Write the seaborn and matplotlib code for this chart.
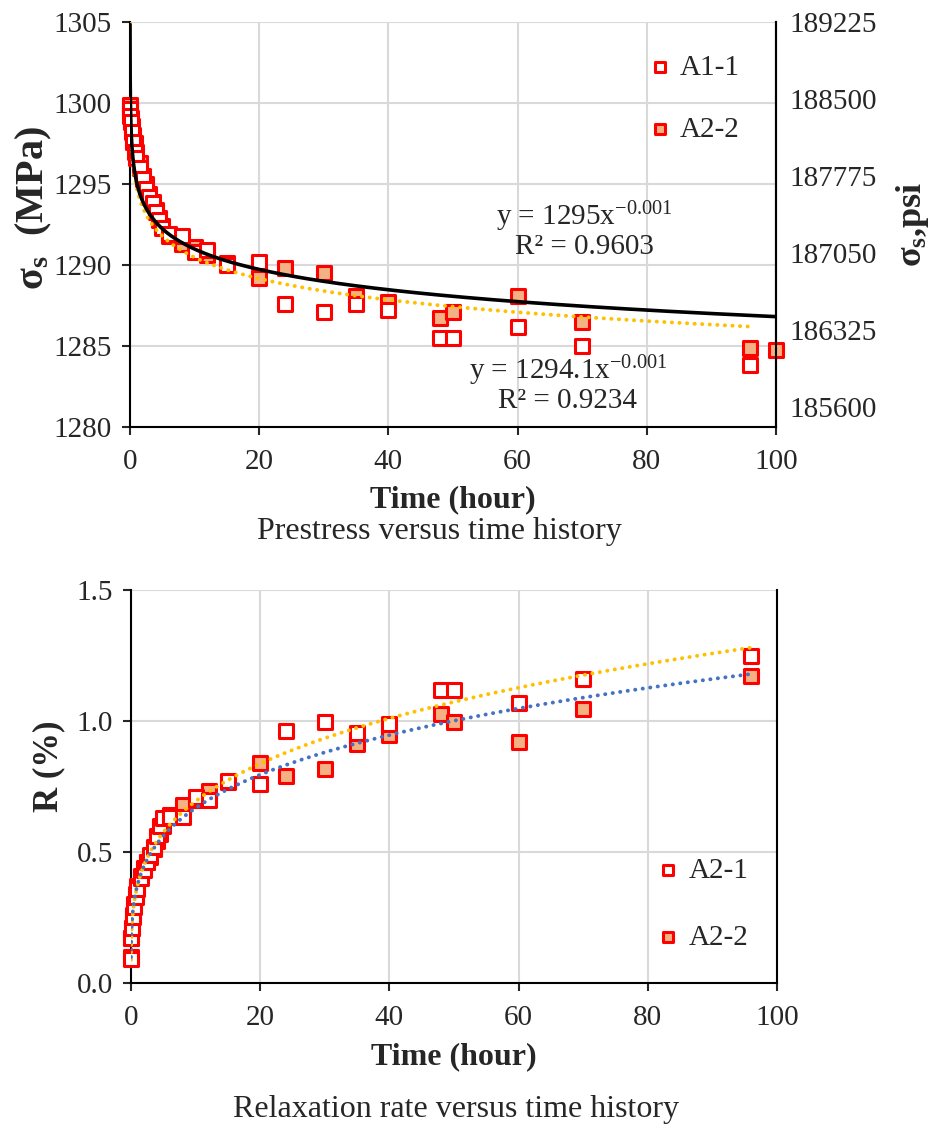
import matplotlib
matplotlib.use("Agg")
import matplotlib.pyplot as plt
import seaborn as sns
import numpy as np

# Messzeitpunkte (h)
hours = [0.005, 0.05, 0.1, 0.25, 0.5, 0.75, 1, 1.5, 2, 2.5, 3, 3.5, 4, 4.5, 5,
         6, 8, 10, 12, 15, 20, 24, 30, 35, 40, 48, 50, 60, 70, 96]
hours_a22_top = hours + [100]

# Spannung (MPa)
stress_a11 = [1299.6, 1299.2, 1298.8, 1298.2, 1297.6, 1297.0, 1296.6, 1296.0, 1295.3, 1294.7,
              1294.2, 1293.8, 1293.3, 1292.8, 1292.3, 1291.9, 1291.8, 1290.8, 1290.9, 1290.0,
              1290.2, 1287.6, 1287.1, 1287.6, 1287.2, 1285.5, 1285.5, 1286.2, 1285.0, 1283.8]
stress_a22 = [1299.9, 1299.5, 1299.1, 1298.6, 1298.0, 1297.5, 1297.0, 1296.3, 1295.5, 1295.0,
              1294.4, 1293.9, 1293.4, 1292.9, 1292.4, 1291.8, 1291.3, 1291.1, 1290.6, 1290.1,
              1289.2, 1289.8, 1289.5, 1288.1, 1287.7, 1286.7, 1287.1, 1288.1, 1286.5, 1284.9,
              1284.75]

# Relaxation (%)
relax_a21 = [0.09, 0.17, 0.21, 0.25, 0.29, 0.33, 0.36, 0.40, 0.43, 0.46, 0.49, 0.52, 0.56, 0.60,
             0.63, 0.635, 0.635, 0.71, 0.70, 0.77, 0.76, 0.96, 0.995, 0.955, 0.99, 1.118, 1.118,
             1.068, 1.16, 1.248]
relax_a22 = [0.10, 0.17, 0.21, 0.26, 0.30, 0.34, 0.37, 0.41, 0.44, 0.46, 0.48, 0.51, 0.54, 0.57,
             0.60, 0.64, 0.68, 0.70, 0.733, 0.768, 0.841, 0.79, 0.817, 0.912, 0.947, 1.027, 0.997,
             0.92, 1.046, 1.172]

stress_ticks = [1280, 1285, 1290, 1295, 1300, 1305]
psi_ticks = [185600, 186325, 187050, 187775, 188500, 189225]
relax_ticks = [0.0, 0.5, 1.0, 1.5]
time_ticks = [0, 20, 40, 60, 80, 100]

eq_black = "y = 1295x$^{-0.001}$\nR² = 0.9603"
eq_yellow = "y = 1294.1x$^{-0.001}$\nR² = 0.9234"

RED = "#FF0000"
FILL = "#F4B183"
YELLOW = "#FFC000"
BLUE = "#4472C4"
GRID = "#D9D9D9"

sns.set_style("white")
plt.rcParams["font.family"] = ["Liberation Serif", "DejaVu Serif"]
plt.rcParams["mathtext.fontset"] = "custom"
plt.rcParams["mathtext.rm"] = "Liberation Serif"
plt.rcParams["mathtext.it"] = "Liberation Serif:italic"
plt.rcParams["mathtext.bf"] = "Liberation Serif:bold"
TICK_FS = 21
LAB_FS = 23
EQ_FS = 21


def power_fit(x, y):
    b, lna = np.polyfit(np.log(x), np.log(y), 1)
    xs = np.geomspace(min(x), max(x), 500)
    return xs, np.exp(lna) * xs ** b


def style_axes(ax):
    ax.grid(True, color=GRID, lw=1.5)
    ax.set_axisbelow(True)
    ax.spines["top"].set_visible(False)
    for s in ["left", "bottom", "right"]:
        ax.spines[s].set_color("black")
        ax.spines[s].set_linewidth(1.5)
    ax.tick_params(axis="both", direction="out", length=6, width=1.5,
                   labelsize=TICK_FS, left=True, bottom=True, pad=7)
    ax.tick_params(axis="x", pad=10)
    ax.set_xlim(0, 100)
    ax.set_xticks(time_ticks)


def draw_series(ax, x_hollow, y_hollow, lab_hollow, x_fill, y_fill, lab_fill):
    # gefuellte Reihe unten, hohle Reihe obendrauf
    sns.scatterplot(x=x_fill, y=y_fill, marker="s", s=95, color=FILL, edgecolor=RED,
                    linewidth=2.2, ax=ax, label=lab_fill, clip_on=False, zorder=3)
    sns.scatterplot(x=x_hollow, y=y_hollow, marker="s", s=95, color="white", edgecolor=RED,
                    linewidth=2.2, ax=ax, label=lab_hollow, clip_on=False, zorder=3)


def dotted(ax, x, y, color):
    xs, ys = power_fit(x, y)
    sns.lineplot(x=xs, y=ys, ax=ax, color=color, lw=2.8, linestyle=(0, (0.05, 1.9)),
                 dash_capstyle="round", errorbar=None, zorder=4)


def legend(ax, anchor, spacing):
    h, l = ax.get_legend_handles_labels()
    order = sorted(range(len(l)), key=lambda i: l[i])
    ax.legend([h[i] for i in order], [l[i] for i in order], loc="upper left",
              bbox_to_anchor=anchor, frameon=False, fontsize=EQ_FS, borderaxespad=0,
              labelspacing=spacing, handlelength=0.8, handletextpad=0.3,
              markerscale=0.78)


fig = plt.figure(figsize=(9.29, 11.33), dpi=100)

# ---- oben: Spannung ----
ax1 = fig.add_axes([0.1399, 0.6231, 0.6954, 0.3575])
style_axes(ax1)
draw_series(ax1, hours, stress_a11, "A1-1", hours_a22_top, stress_a22, "A2-2")
dotted(ax1, hours, stress_a11, YELLOW)
xs, ys = power_fit(hours_a22_top, stress_a22)
sns.lineplot(x=xs, y=ys, ax=ax1, color="black", lw=2.6, errorbar=None, zorder=5)
ax1.set_ylim(1280, 1305)
ax1.set_yticks(stress_ticks)
ax1.set_xlabel("Time (hour)", fontsize=LAB_FS, fontweight="bold", labelpad=7)
ax1.set_ylabel("σ$_\\mathbf{s}$  (MPa)", fontsize=LAB_FS + 6, fontweight="bold", labelpad=0)
ax1.yaxis.label.set_y(0.54)
ax1.text(70.4, 1292.2, eq_black, fontsize=EQ_FS, ha="center", va="center",
         multialignment="center", linespacing=1.0)
ax1.text(67.8, 1282.65, eq_yellow, fontsize=EQ_FS, ha="center", va="center",
         multialignment="center", linespacing=1.0)
legend(ax1, (0.784, 0.948), 1.2)

ax1r = ax1.twinx()
ax1r.set_ylim(185411, 189225)
ax1r.set_yticks(psi_ticks)
ax1r.set_yticklabels([str(v) for v in psi_ticks])
ax1r.tick_params(axis="y", length=0, labelsize=TICK_FS, pad=10)
ax1r.grid(False)
for s in ["top", "left", "bottom"]:
    ax1r.spines[s].set_visible(False)
ax1r.spines["right"].set_color("black")
ax1r.spines["right"].set_linewidth(1.5)
ax1r.set_ylabel("σ$_\\mathbf{s}$,psi", fontsize=LAB_FS + 3, fontweight="bold", labelpad=12)
fig.text(0.4726, 1 - 531 / 1133, "Prestress versus time history", fontsize=LAB_FS,
         ha="center", va="center")

# ---- unten: Relaxation ----
ax2 = fig.add_axes([0.1410, 0.1324, 0.6954, 0.3469])
style_axes(ax2)
draw_series(ax2, hours, relax_a21, "A2-1", hours, relax_a22, "A2-2")
dotted(ax2, hours, relax_a21, YELLOW)
dotted(ax2, hours, relax_a22, BLUE)
ax2.set_ylim(0, 1.5)
ax2.set_yticks(relax_ticks)
ax2.set_yticklabels([f"{v:.1f}" for v in relax_ticks])
ax2.set_xlabel("Time (hour)", fontsize=LAB_FS, fontweight="bold", labelpad=8)
ax2.set_ylabel("R (%)", fontsize=LAB_FS + 2, fontweight="bold", labelpad=8)
ax2.yaxis.label.set_y(0.552)
legend(ax2, (0.795, 0.349), 1.4)
fig.text(0.491, 1 - 1110 / 1133, "Relaxation rate versus time history", fontsize=LAB_FS,
         ha="center", va="center")

fig.savefig("out.png", dpi=100)
plt.close(fig)
